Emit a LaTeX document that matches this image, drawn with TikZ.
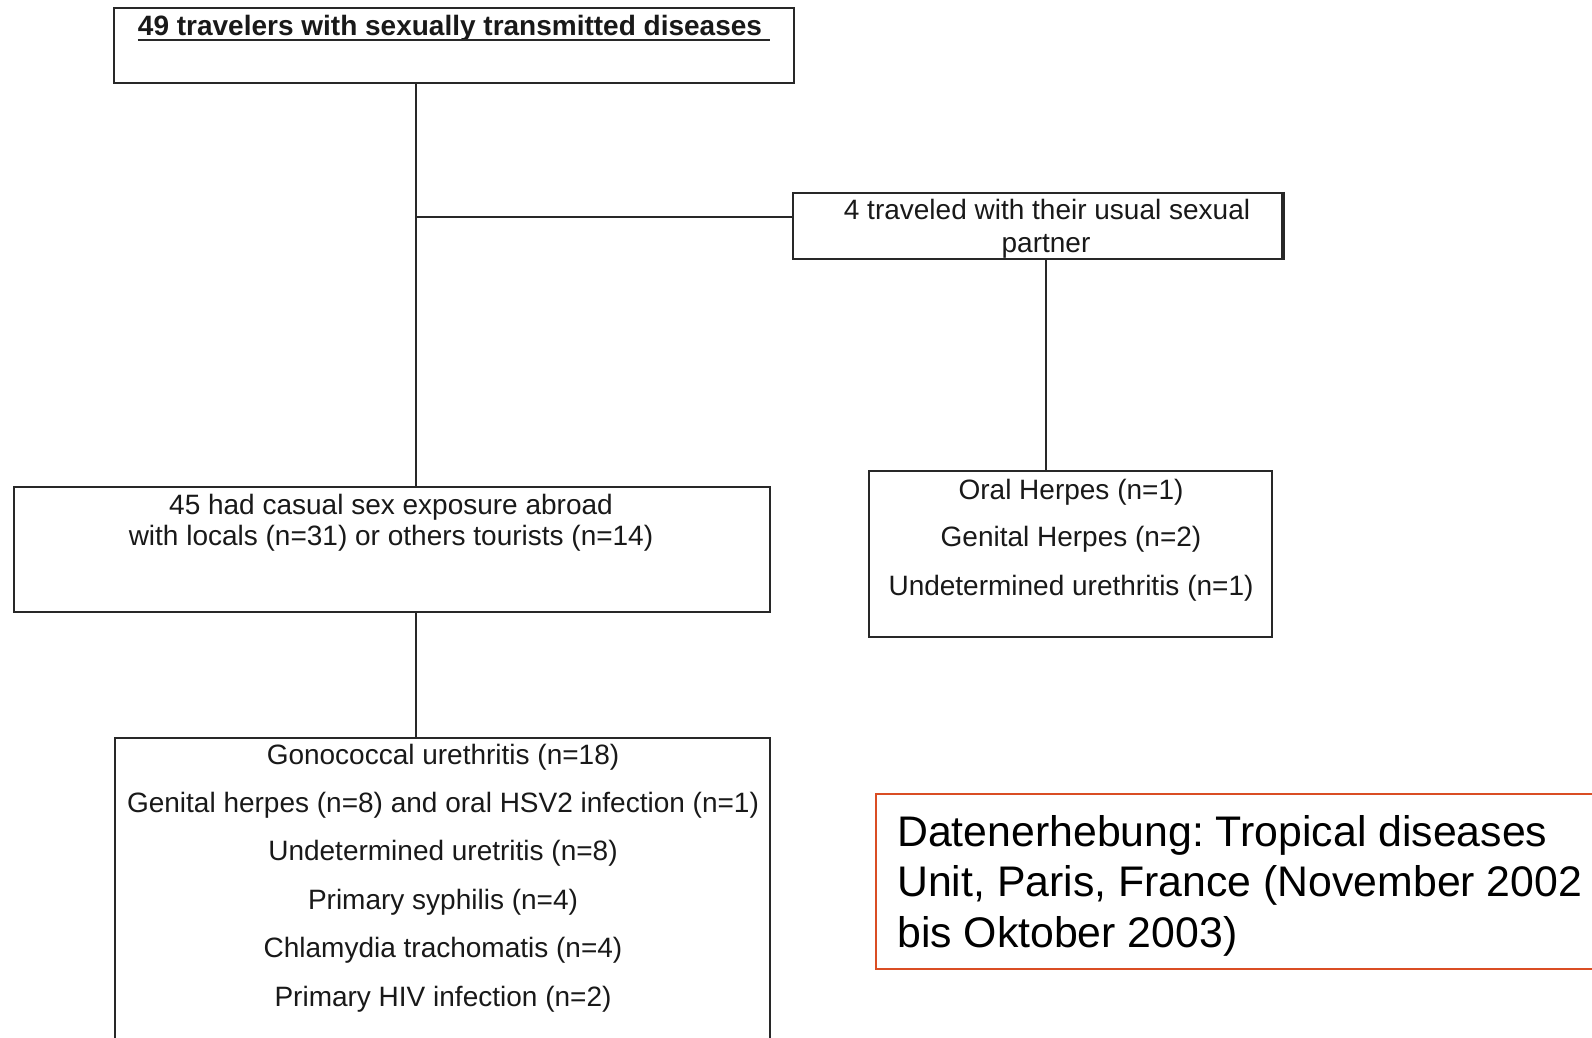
\documentclass[tikz,border=0pt]{standalone}
\usepackage{fontspec}
\setmainfont{Liberation Sans}
\frenchspacing
\definecolor{frame}{RGB}{40,40,40}
\definecolor{redframe}{RGB}{218,78,36}
\begin{document}
\begin{tikzpicture}[x=1pt,y=-1pt,
  box/.style={draw=frame,line width=2.4pt,rectangle,inner sep=0pt,fill=none},
  conn/.style={draw=frame,line width=2.6pt},
  txt/.style={inner sep=0pt,anchor=base,font=\fontsize{28}{33}\selectfont,text=black!90},
  note/.style={inner sep=0pt,anchor=base west,font=\fontsize{42.8}{50.5}\selectfont,text=black}]
\useasboundingbox (0,0) rectangle (1592,1037);
\clip (0,0) rectangle (1592,1037);
\fill[white] (0,0) rectangle (1592,1037);

% boxes
\node[box,minimum width=680pt,minimum height=75pt] (top) at (454,45.5) {};
\node[box,minimum width=489pt,minimum height=66pt] (partner) at (1037.5,226) {};
\node[box,minimum width=756pt,minimum height=125pt] (casual) at (392,549.5) {};
\node[box,minimum width=403pt,minimum height=166pt] (rbox) at (1070.5,554) {};
\node[box,minimum width=655pt,minimum height=310pt] (bbox) at (442.5,893) {};
\node[draw=redframe,line width=1.6pt,rectangle,inner sep=0pt,minimum width=730pt,minimum height=175pt] (note) at (1241,881.5) {};
% thick right edge of partner box
\draw[frame,line width=4.5pt] (partner.north east) -- (partner.south east);

% coordinates for connector columns
\coordinate (trunk) at (416,217);
\coordinate (rcol) at (1046,0);

% connectors
\draw[conn] (top.south -| trunk) -- (casual.north -| trunk);
\draw[conn] (trunk) -- (partner.west |- trunk);
\draw[conn] (partner.south -| rcol) -- (rbox.north -| rcol);
\draw[conn] (casual.south -| trunk) -- (bbox.north -| trunk);

% title
\node[txt,font=\fontsize{28}{33}\selectfont\bfseries] (title) at (450,35) {49 travelers with sexually transmitted diseases};
\draw[frame,line width=2pt] ([yshift=-5pt]title.base west) -- ([xshift=8pt,yshift=-5pt]title.base east);

% partner text
\node[txt] (p1) at (1047,219) {4 traveled with their usual sexual};
\node[txt] (p2) at (1046,252) {partner};

% casual text
\node[txt] (c1) at (391,514) {45 had casual sex exposure abroad};
\node[txt] (c2) at (391,545) {with locals (n=31) or others tourists (n=14)};

% right box text
\node[txt] (r1) at (1071,499) {Oral Herpes (n=1)};
\node[txt] (r2) at (1071,546) {Genital Herpes (n=2)};
\node[txt] (r3) at (1071,595) {Undetermined urethritis (n=1)};

% bottom box text
\node[txt] (b1) at (443,764) {Gonococcal urethritis (n=18)};
\node[txt] (b2) at (443,812) {Genital herpes (n=8) and oral HSV2 infection (n=1)};
\node[txt] (b3) at (443,860) {Undetermined uretritis (n=8)};
\node[txt] (b4) at (443,909) {Primary syphilis (n=4)};
\node[txt] (b5) at (443,957) {Chlamydia trachomatis (n=4)};
\node[txt] (b6) at (443,1006) {Primary HIV infection (n=2)};

% note text
\node[note] (n1) at (897,846) {Datenerhebung: Tropical diseases};
\node[note] (n2) at (897,896.5) {Unit, Paris, France (November 2002};
\node[note] (n3) at (897,947) {bis Oktober 2003)};
\end{tikzpicture}
\end{document}
